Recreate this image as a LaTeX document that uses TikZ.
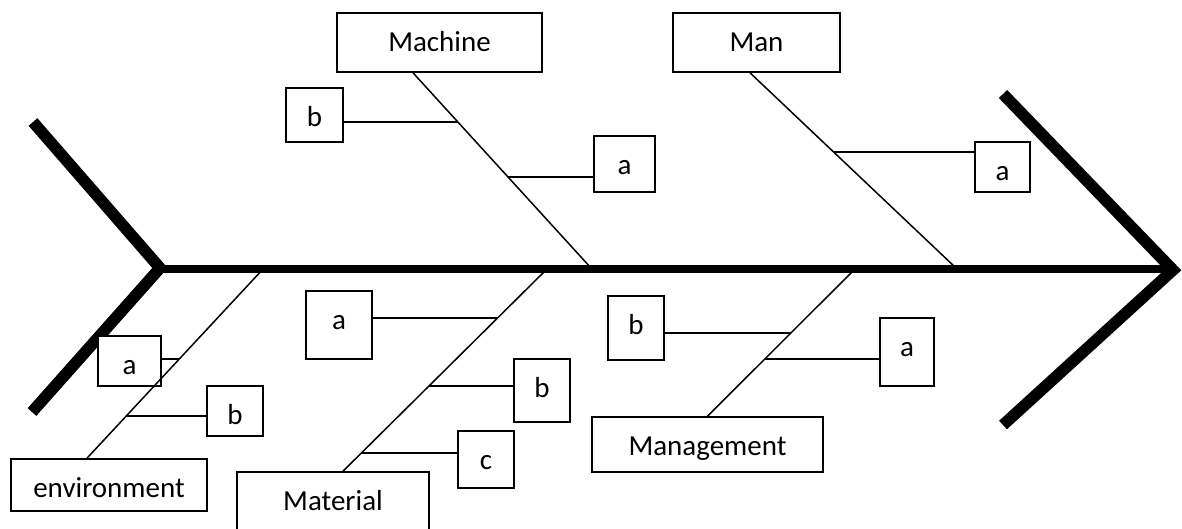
\documentclass[tikz,border=0pt]{standalone}
\usepackage{fontspec}
\setmainfont{Carlito}
\begin{document}
\begin{tikzpicture}[x=0.5pt,y=-0.5pt,
  bone/.style={line width=5.8pt,line join=miter},
  spine/.style={line width=4pt},
  rib/.style={line width=0.75pt},
  cause/.style={draw,line width=0.8pt,fill=white,inner sep=0pt,text height=19.3pt,font=\fontsize{14.5}{17}\selectfont}]
\useasboundingbox (0,0) rectangle (1182,529);
\clip (0,0) rectangle (1182,529);
\draw[bone] (33,122) -- (160,268) -- (32,412);
\draw[bone] (1003,94) -- (1173,270) -- (1003,425);
\draw[spine] (158,269) -- (1167,269);
\node[cause,minimum width=102.5pt,text depth=10.2pt] (machine) at (439.5,42.5) {Machine};
\node[cause,minimum width=83.5pt,text depth=10.2pt] (man) at (756.5,42.5) {Man};
\node[cause,minimum width=28.5pt,text depth=7.7pt] (machb) at (314.5,115) {b};
\node[cause,minimum width=30.5pt,text depth=8.7pt] (macha) at (624.5,164) {a};
\node[cause,minimum width=27.5pt,text depth=5.7pt] (mana) at (1002.5,167) {a};
\node[cause,minimum width=31.5pt,text depth=5.7pt] (enva) at (129.5,361) {a};
\node[cause,minimum width=28pt,text depth=5.7pt] (envb) at (235,411) {b};
\node[cause,minimum width=98pt,text depth=6.7pt] (environment) at (109,485) {environment};
\node[cause,minimum width=33pt,text depth=14.7pt] (mata) at (339,325) {a};
\node[cause,minimum width=28pt,text depth=12.2pt] (matb) at (542,390.5) {b};
\node[cause,minimum width=28pt,text depth=9.2pt] (matc) at (486,459.5) {c};
\node[cause,minimum width=96pt,text depth=10.7pt] (material) at (333,502) {Material};
\node[cause,minimum width=28pt,text depth=12.7pt] (mgtb) at (636,328) {b};
\node[cause,minimum width=27pt,text depth=14.7pt] (mgta) at (907,352) {a};
\node[cause,minimum width=115.5pt,text depth=8.2pt] (management) at (707.5,444.5) {Management};
\coordinate (machtop) at ([xshift=-13.25pt]machine.south);
\coordinate (mantop) at ([xshift=-3.25pt]man.south);
\coordinate (envtop) at ([xshift=-11pt]environment.north);
\coordinate (mattop) at ([xshift=5pt]material.north);
\coordinate (mgttop) at (management.north);
\coordinate (machfoot) at (591,268);
\coordinate (manfoot) at (956,268);
\coordinate (envfoot) at (264,268);
\coordinate (matfoot) at (548,268);
\coordinate (mgtfoot) at (856,268);
\draw[rib] (machtop) -- (machfoot);
\draw[rib] (mantop) -- (manfoot);
\draw[rib] (envtop) -- (envfoot);
\draw[rib] (mattop) -- (matfoot);
\draw[rib] (mgttop) -- (mgtfoot);
\coordinate (machbx) at (intersection of machtop--machfoot and 0,122--100,122);
\coordinate (machax) at (intersection of machtop--machfoot and 0,177--100,177);
\coordinate (manax) at (intersection of mantop--manfoot and 0,152--100,152);
\coordinate (envax) at (intersection of envtop--envfoot and 0,359--100,359);
\coordinate (envbx) at (intersection of envtop--envfoot and 0,416--100,416);
\coordinate (matax) at (intersection of mattop--matfoot and 0,318--100,318);
\coordinate (matbx) at (intersection of mattop--matfoot and 0,386--100,386);
\coordinate (matcx) at (intersection of mattop--matfoot and 0,453--100,453);
\coordinate (mgtbx) at (intersection of mgttop--mgtfoot and 0,333--100,333);
\coordinate (mgtax) at (intersection of mgttop--mgtfoot and 0,359--100,359);
\draw[rib] (machb.east |- machbx) -- (machbx);
\draw[rib] (machax) -- (macha.west |- machax);
\draw[rib] (manax) -- (mana.west |- manax);
\draw[rib] (enva.east |- envax) -- (envax);
\draw[rib] (envbx) -- (envb.west |- envbx);
\draw[rib] (mata.east |- matax) -- (matax);
\draw[rib] (matbx) -- (matb.west |- matbx);
\draw[rib] (matcx) -- (matc.west |- matcx);
\draw[rib] (mgtb.east |- mgtbx) -- (mgtbx);
\draw[rib] (mgtax) -- (mgta.west |- mgtax);
\end{tikzpicture}
\end{document}
